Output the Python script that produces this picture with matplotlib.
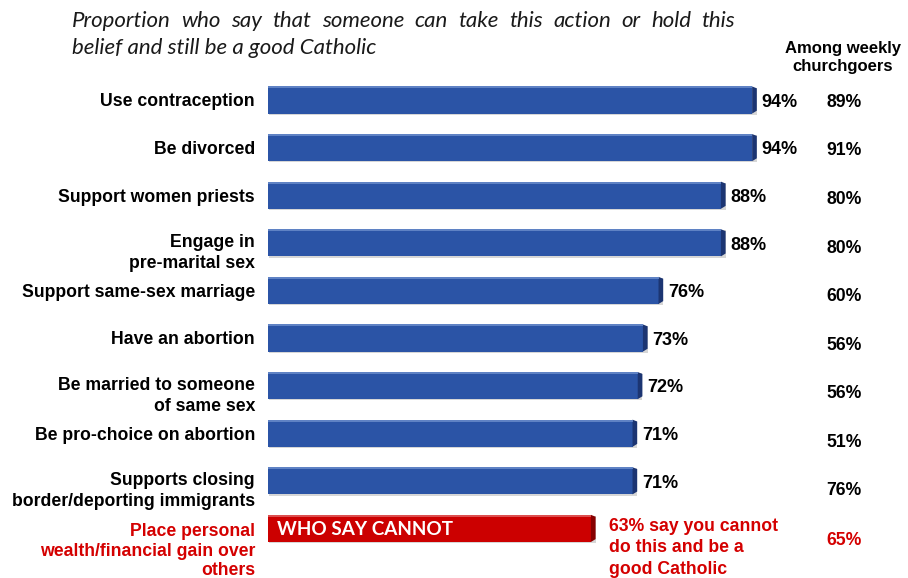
import matplotlib
matplotlib.use('Agg')
import matplotlib.pyplot as plt
from matplotlib.patches import Polygon, Rectangle

categories = ['Use contraception', 'Be divorced', 'Support women priests',
              'Engage in\npre-marital sex', 'Support same-sex marriage',
              'Have an abortion', 'Be married to someone\nof same sex',
              'Be pro-choice on abortion',
              'Supports closing\nborder/deporting immigrants']
values = [94, 94, 88, 88, 76, 73, 72, 71, 71]
weekly = [89, 91, 80, 80, 60, 56, 56, 51, 76]

red_label = 'Place personal\nwealth/financial gain over\nothers'
red_value = 63
red_weekly = 65
red_note = '63% say you cannot\ndo this and be a\ngood Catholic'

title_line1 = 'Proportion who say that someone can take this action or hold this'
title_line2 = 'belief and still be a good Catholic'

BLUE = '#2B54A6'
BLUE_SIDE = '#1C3572'
BLUE_TOP = '#6A8CCB'
RED = '#CC0000'
RED_SIDE = '#870000'
RED_TOP = '#E06060'
RED_TXT = '#D40000'

W, H = 908, 578
fig = plt.figure(figsize=(W / 100, H / 100), dpi=100)
ax = fig.add_axes([0, 0, 1, 1])
ax.axis('off')

pxu = 5.2          # pixels per percentage point
x0 = 268           # left edge of bars, px
y0, dy = 100, 47.6 # first bar centre, spacing, px
ax.set_xlim(-x0 / pxu, (W - x0) / pxu)
ax.set_ylim((H - y0) / dy, -y0 / dy)

bh = 0.57
side = 0.9


def bar3d(i, v, face, dark, top):
    # faint bottom shadow
    ax.add_patch(Rectangle((0.2, i - bh / 2 + 0.025), v - 0.2, bh,
                           color='#d6d6d6', zorder=1, lw=0))
    ax.barh(i, v - side, height=bh, color=face, zorder=2, lw=0)
    ax.add_patch(Polygon([(v - side, i - bh / 2), (v, i - bh / 2 + 0.04),
                          (v, i + bh / 2 - 0.06), (v - side, i + bh / 2)],
                         closed=True, color=dark, zorder=3, lw=0))
    ax.plot([0, v - side], [i - bh / 2 + 0.02] * 2, color=top, lw=1.2,
            zorder=4, solid_capstyle='butt')


lab_font = dict(family='Liberation Sans', weight='bold', fontsize=12.7)

for i, (c, v, w) in enumerate(zip(categories, values, weekly)):
    bar3d(i, v, BLUE, BLUE_SIDE, BLUE_TOP)
    if '\n' in c:
        ax.text(-2.5, i - 0.18, c, ha='right', va='top', linespacing=1.27,
                color='black', **lab_font)
    else:
        ax.text(-2.5, i + 0.04, c, ha='right', va='center', color='black',
                **lab_font)
    ax.text(v + 0.9, i + 0.05, f'{v}%', ha='left', va='center',
            color='black', family='Liberation Sans', weight='bold',
            fontsize=13)
    ax.text(110.8, i + 0.05 + 0.02 * i, f'{w}%', ha='center', va='center',
            color='black', family='Liberation Sans', weight='bold',
            fontsize=12.7)

# red row
r = len(values)
bar3d(r, red_value, RED, RED_SIDE, RED_TOP)
ax.text(1.7, r + 0.02, 'WHO SAY CANNOT', ha='left', va='center', color='white',
        family='Lato', weight='bold', fontsize=13.6)
ax.text(-2.5, r - 0.12, red_label, ha='right', va='top', linespacing=1.22,
        color=RED_TXT, **lab_font)
ax.text(red_value + 2.6, r - 0.22, red_note, ha='left', va='top',
        linespacing=1.35, color=RED_TXT, family='Liberation Sans',
        weight='bold', fontsize=12.7)
ax.text(110.8, r + 0.25, f'{red_weekly}%', ha='center', va='center',
        color=RED_TXT, family='Liberation Sans', weight='bold', fontsize=12.7)

# weekly header
fig.text(843 / W, 1 - 58 / H, 'Among weekly\nchurchgoers', ha='center',
         va='center', linespacing=1.25, family='Liberation Sans',
         weight='bold', fontsize=12)

# title, first line justified between 72 and 735 px
tfont = dict(family='Lato', style='italic', fontsize=16, color='#1a1a1a')
renderer = fig.canvas.get_renderer()
words = title_line1.split()
texts = [fig.text(0, 1 - 21 / H, wd, ha='left', va='center', **tfont)
         for wd in words]
widths = [t.get_window_extent(renderer).width for t in texts]
gap = (735 - 72 - sum(widths)) / (len(words) - 1)
xp = 72
for t, wd in zip(texts, widths):
    t.set_x(xp / W)
    xp += wd + gap
fig.text(72 / W, 1 - 48 / H, title_line2, ha='left', va='center', **tfont)

fig.savefig('out.png', dpi=100)
